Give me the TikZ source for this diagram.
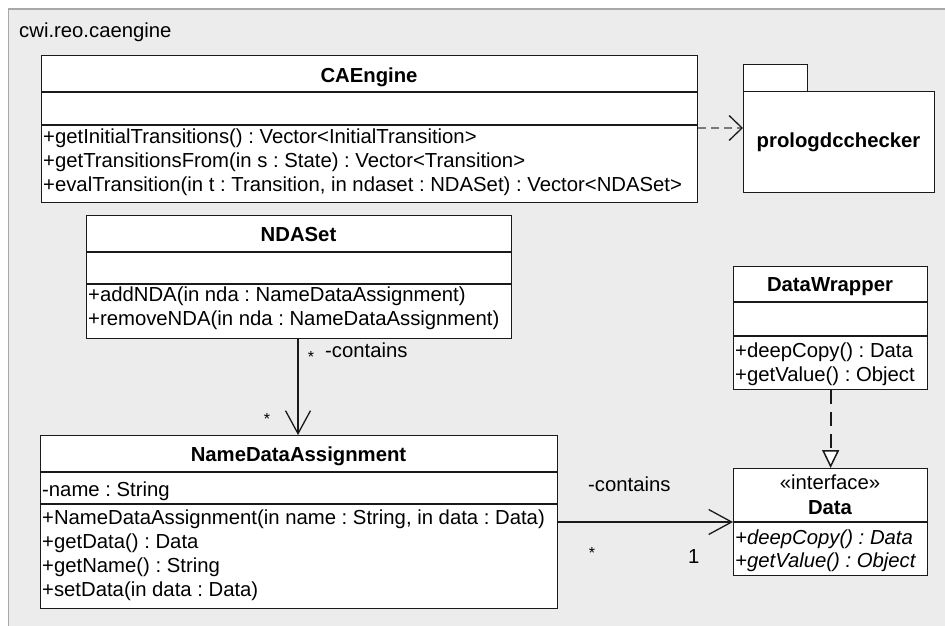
\documentclass[tikz,border=0pt]{standalone}
\usepackage{fontspec}
\setmainfont{Liberation Sans}
\usetikzlibrary{arrows.meta,calc}
\frenchspacing
\definecolor{framefill}{HTML}{ECECEC}
\definecolor{framedraw}{HTML}{A8A8A8}
\definecolor{boxdraw}{HTML}{1A1A1A}
\definecolor{depgray}{HTML}{7A7A7A}
\tikzset{
  classbox/.style={draw=boxdraw, fill=white, line width=1.3pt, inner sep=0pt, anchor=north west},
  sepline/.style={draw=boxdraw, line width=1.3pt},
  txt/.style={anchor=base west, inner sep=0pt, font=\fontsize{20.3}{24}\selectfont},
  ttl/.style={anchor=base, inner sep=0pt, font=\fontsize{20.3}{24}\selectfont\bfseries},
  ctr/.style={anchor=base, inner sep=0pt, font=\fontsize{20.3}{24}\selectfont},
  star/.style={anchor=center, inner sep=0pt, font=\fontsize{16}{20}\selectfont},
  assoc/.style={draw=boxdraw, line width=1.1pt, -{Straight Barb[length=23pt,width=25pt,line width=1.3pt]}},
  depend/.style={draw=depgray, line width=1.3pt, dash pattern=on 8pt off 5pt, -{Straight Barb[length=13pt,width=25pt,line width=1.3pt,color=boxdraw]}},
  realize/.style={draw=boxdraw, line width=2pt, dash pattern=on 14pt off 8pt, -{Triangle[open,length=18pt,width=17pt,line width=1.5pt,fill=white]}}
}
\begin{document}
\begin{tikzpicture}[x=1pt,y=-1pt]
\useasboundingbox (0,0) rectangle (945,626);
% package frame
\fill[framefill] (8.5,9) rectangle (950,630);
\draw[framedraw, line width=1.2pt] (8.5,630) -- (8.5,9) -- (950,9);
\node[txt] (pkglabel) at (19,38) {cwi.reo.caengine};

% CAEngine
\node[classbox, minimum width=656pt, minimum height=147pt] (cae) at (41,55) {};
\draw[sepline] ($(cae.north west)+(0,37)$) -- ($(cae.north east)+(0,37)$);
\draw[sepline] ($(cae.north west)+(0,70)$) -- ($(cae.north east)+(0,70)$);
\node[ttl] (caeT) at (369,82) {CAEngine};
\node[txt] (caeM1) at (43,143) {+getInitialTransitions() : Vector<InitialTransition>};
\node[txt] (caeM2) at (43,167) {+getTransitionsFrom(in s : State) : Vector<Transition>};
\node[txt] (caeM3) at (43,191) {+evalTransition(in t : Transition, in ndaset : NDASet) : Vector<NDASet>};

% package prologdcchecker
\node[classbox, minimum width=64pt, minimum height=27pt] (pkgtab) at (743,64) {};
\node[classbox, minimum width=191pt, minimum height=101pt] (pkg) at (743,91) {};
\node[ttl] (pkgT) at (838.5,147) {prologdcchecker};

% NDASet
\node[classbox, minimum width=425pt, minimum height=123pt] (nset) at (86,215) {};
\draw[sepline] ($(nset.north west)+(0,37)$) -- ($(nset.north east)+(0,37)$);
\draw[sepline] ($(nset.north west)+(0,69)$) -- ($(nset.north east)+(0,69)$);
\node[ttl] (nsetT) at (298.5,241) {NDASet};
\node[txt] (nsetM1) at (88,301) {+addNDA(in nda : NameDataAssignment)};
\node[txt] (nsetM2) at (88,325) {+removeNDA(in nda : NameDataAssignment)};

% NameDataAssignment
\node[classbox, minimum width=517pt, minimum height=173pt] (nda) at (40,435) {};
\draw[sepline] ($(nda.north west)+(0,37)$) -- ($(nda.north east)+(0,37)$);
\draw[sepline] ($(nda.north west)+(0,69)$) -- ($(nda.north east)+(0,69)$);
\node[ttl] (ndaT) at (298.5,461) {NameDataAssignment};
\node[txt] (ndaA1) at (42,496) {-name : String};
\node[txt] (ndaM1) at (42,524) {+NameDataAssignment(in name : String, in data : Data)};
\node[txt] (ndaM2) at (42,548) {+getData() : Data};
\node[txt] (ndaM3) at (42,572) {+getName() : String};
\node[txt] (ndaM4) at (42,596) {+setData(in data : Data)};

% DataWrapper
\node[classbox, minimum width=194pt, minimum height=123pt] (dw) at (733,266) {};
\draw[sepline] ($(dw.north west)+(0,36)$) -- ($(dw.north east)+(0,36)$);
\draw[sepline] ($(dw.north west)+(0,70)$) -- ($(dw.north east)+(0,70)$);
\node[ttl] (dwT) at (830,291) {DataWrapper};
\node[txt] (dwM1) at (735,357) {+deepCopy() : Data};
\node[txt] (dwM2) at (735,381) {+getValue() : Object};

% Data interface
\node[classbox, minimum width=194pt, minimum height=107pt] (data) at (733,468) {};
\draw[sepline] ($(data.north west)+(0,54)$) -- ($(data.north east)+(0,54)$);
\node[ctr] (dataS) at (830,489) {«interface»};
\node[ttl] (dataT) at (830,514) {Data};
\node[txt, font=\fontsize{20.3}{24}\selectfont\itshape] (dataM1) at (735,544) {+deepCopy() : Data};
\node[txt, font=\fontsize{20.3}{24}\selectfont\itshape] (dataM2) at (735,567) {+getValue() : Object};

% connectors
\coordinate (depS) at ($(cae.north east)+(0,73)$);
\draw[depend] (depS) -- (depS -| pkg.west);

\coordinate (a1) at ($(nset.south west)+(212,0)$);
\draw[assoc] (a1) -- (a1 |- nda.north);

\coordinate (a2) at ($(data.north west)+(0,54)$);
\draw[assoc] (a2 -| nda.east) -- (a2);

\draw[realize] (dw.south) -- (data.north);

% association labels
\node[txt] (l1) at (325,357) {-contains};
\node[star] (s1) at (311,357) {*};
\node[star] (s2) at (267,419) {*};
\node[txt] (l2) at (588,491) {-contains};
\node[star] (s3) at (592,553) {*};
\node[txt] (m1) at (688,563) {1};
\end{tikzpicture}
\end{document}
